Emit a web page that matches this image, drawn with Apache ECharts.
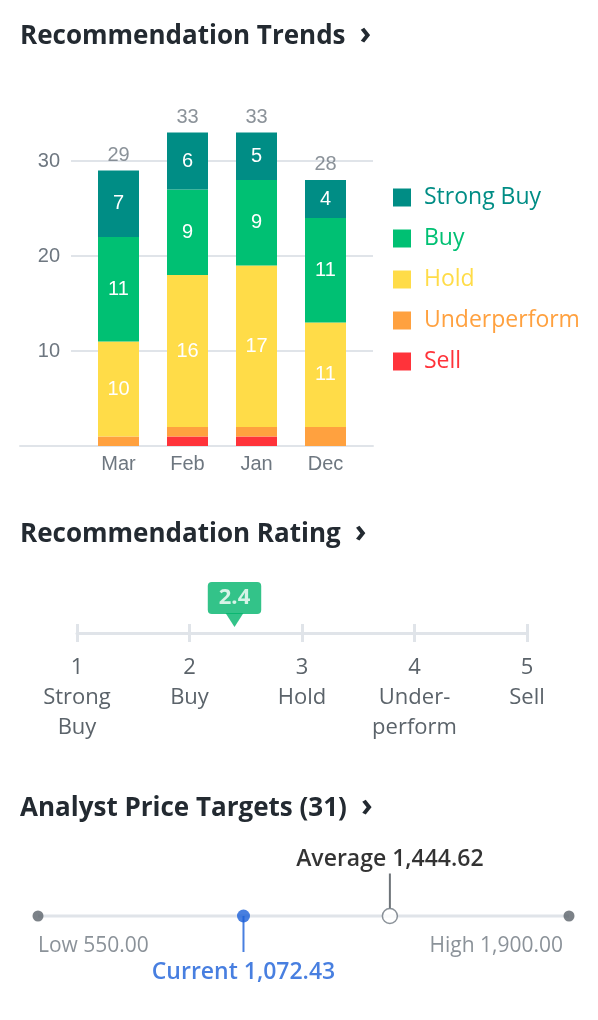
<!DOCTYPE html>
<html>
<head>
<meta charset="utf-8">
<script src="https://cdn.jsdelivr.net/npm/echarts@6/dist/echarts.min.js"></script>
<style>
  html, body { margin: 0; padding: 0; background: #fff; }
  #main { width: 598px; height: 1020px; }
</style>
</head>
<body>
<div id="main"></div>
<script>
// recommendation trends (stack order bottom -> top: sell .. strong buy)
var months = ['Mar', 'Feb', 'Jan', 'Dec'];
var strongBuy = [7, 6, 5, 4];
var buy = [11, 9, 9, 11];
var hold = [10, 16, 17, 11];
var underperform = [1, 1, 1, 2];
var sell = [0, 1, 1, 0];
var yTickLabels = [10, 20, 30];

// recommendation rating
var ratingScale = [1, 2, 3, 4, 5];
var ratingNames = ['Strong\nBuy', 'Buy', 'Hold', 'Under-\nperform', 'Sell'];
var ratingValue = 2.4;

// analyst price targets
var analystCount = 31;
var priceLow = 550.00;
var priceHigh = 1900.00;
var priceCurrent = 1072.43;
var priceAverage = 1444.62;

var totals = months.map(function (m, i) {
  return strongBuy[i] + buy[i] + hold[i] + underperform[i] + sell[i];
});

var fmt = function (v) {
  return v.toLocaleString('en-US', {minimumFractionDigits: 2, maximumFractionDigits: 2});
};

var HUM = '"Open Sans", "Noto Sans", sans-serif';
var ARIAL = '"Liberation Sans", Arial, sans-serif';
var grey = '#6e7780';
var lineGrey = '#e0e4e9';

var colors = {
  'Strong Buy': '#008d85',
  'Buy': '#00c073',
  'Hold': '#ffdc48',
  'Underperform': '#ffa13f',
  'Sell': '#ff333a'
};

function heading(text, top) {
  return {
    text: '{t|' + text + '}{c|›}',
    left: 20, top: top, padding: 0,
    textStyle: {
      rich: {
        t: {fontFamily: HUM, fontWeight: 'bold', fontSize: 26, lineHeight: 30, color: '#232a31'},
        c: {fontFamily: HUM, fontWeight: 'bold', fontSize: 32, lineHeight: 30, color: '#232a31', padding: [0, 0, 4, 14]}
      }
    }
  };
}

function barSeries(name, data, showLabel) {
  return {
    name: name,
    type: 'bar',
    stack: 'rec',
    xAxisIndex: 2,
    yAxisIndex: 2,
    barWidth: 41,
    data: data,
    itemStyle: {color: colors[name]},
    label: {
      show: showLabel,
      position: 'inside',
      color: '#fff',
      fontSize: 20,
      fontFamily: ARIAL
    }
  };
}

var chart = echarts.init(document.getElementById('main'));

var option = {
  animation: false,
  title: [
    heading('Recommendation Trends', 22),
    heading('Recommendation Rating', 520),
    heading('Analyst Price Targets (' + analystCount + ')', 794)
  ],
  legend: {
    orient: 'vertical',
    left: 393,
    top: 186,
    padding: 0,
    itemWidth: 18,
    itemHeight: 18,
    itemGap: 18,
    icon: 'rect',
    selectedMode: false,
    textStyle: {fontFamily: HUM, fontSize: 23, lineHeight: 22, padding: [0, 0, 0, 8]},
    data: ['Strong Buy', 'Buy', 'Hold', 'Underperform', 'Sell'].map(function (n) {
      return {name: n, textStyle: {color: colors[n]}};
    })
  },
  grid: [
    {left: 20, right: 225, top: 66, bottom: 574},
    {left: 71, right: 225, top: 66, bottom: 574},
    {left: 84, right: 238, top: 66, bottom: 574},
    {left: 77, right: 71, top: 624, bottom: 378},
    {left: 38, right: 29, top: 900, bottom: 88}
  ],
  xAxis: [
    {gridIndex: 0, type: 'category', data: months,
      axisLine: {lineStyle: {color: lineGrey, width: 2}},
      axisTick: {show: false}, axisLabel: {show: false}},
    {gridIndex: 1, type: 'category', data: months, show: false},
    {gridIndex: 2, type: 'category', data: months,
      axisLine: {show: false}, axisTick: {show: false},
      axisLabel: {color: grey, fontSize: 20, fontFamily: ARIAL, margin: 8}},
    {gridIndex: 3, type: 'value', min: ratingScale[0], max: ratingScale[ratingScale.length - 1], interval: 1,
      axisLine: {show: true, onZero: true, lineStyle: {color: lineGrey, width: 3}},
      axisTick: {show: false},
      splitLine: {show: true, lineStyle: {color: lineGrey, width: 3}},
      axisLabel: {
        color: '#5b636a', fontSize: 22, fontFamily: HUM, lineHeight: 30, margin: 11,
        formatter: function (v) { return v + '\n' + ratingNames[ratingScale.indexOf(v)]; }
      }},
    {gridIndex: 4, type: 'value', min: priceLow, max: priceHigh, show: false}
  ],
  yAxis: [
    {gridIndex: 0, type: 'value', min: 0, max: 40, show: false},
    {gridIndex: 1, type: 'value', min: 0, max: 40, interval: 10,
      axisLine: {show: false}, axisTick: {show: false},
      axisLabel: {color: grey, fontSize: 20, fontFamily: ARIAL, margin: 11,
        formatter: function (v) { return yTickLabels.indexOf(v) >= 0 ? v : ''; }},
      splitLine: {lineStyle: {color: [lineGrey, lineGrey, lineGrey, lineGrey, 'rgba(0,0,0,0)'], width: 2}}},
    {gridIndex: 2, type: 'value', min: 0, max: 40, show: false},
    {gridIndex: 3, type: 'value', min: -1, max: 1, show: false},
    {gridIndex: 4, type: 'value', min: -1, max: 1, show: false}
  ],
  series: [
    barSeries('Sell', sell, false),
    barSeries('Underperform', underperform, false),
    barSeries('Hold', hold, true),
    barSeries('Buy', buy, true),
    barSeries('Strong Buy', strongBuy, true),
    {
      type: 'scatter', xAxisIndex: 2, yAxisIndex: 2,
      data: totals, symbolSize: 1, itemStyle: {color: 'rgba(0,0,0,0)'},
      label: {show: true, position: 'top', distance: 5, color: grey, fontSize: 20, fontFamily: ARIAL}
    },
    // rating marker
    {
      type: 'scatter', xAxisIndex: 3, yAxisIndex: 3,
      data: [[ratingValue, 0]],
      symbol: 'triangle', symbolRotate: 180, symbolSize: [18, 14], symbolOffset: [0, -13],
      itemStyle: {color: '#00b46c'},
      label: {
        show: true, position: 'top', distance: -1,
        formatter: function (p) { return p.value[0].toFixed(1); },
        backgroundColor: '#00b46c', borderRadius: 4, padding: [5, 11, 5, 11],
        color: '#fff', fontFamily: HUM, fontWeight: 'bold', fontSize: 22, lineHeight: 22
      }
    },
    // price targets
    {
      type: 'line', xAxisIndex: 4, yAxisIndex: 4,
      data: [[priceLow, 0], [priceHigh, 0]], symbol: 'none',
      lineStyle: {color: lineGrey, width: 3}, z: 1
    },
    {
      type: 'scatter', xAxisIndex: 4, yAxisIndex: 4,
      symbolSize: 11, itemStyle: {color: '#5b636a'},
      data: [
        {value: [priceLow, 0], label: {show: true, position: 'bottom', align: 'left', distance: 14,
          formatter: 'Low ' + fmt(priceLow)}},
        {value: [priceHigh, 0], label: {show: true, position: 'bottom', align: 'right', distance: 14,
          offset: [-6, 0], formatter: 'High ' + fmt(priceHigh)}}
      ],
      label: {color: grey, fontSize: 21, fontFamily: HUM}
    },
    {
      type: 'scatter', xAxisIndex: 4, yAxisIndex: 4,
      data: [[priceCurrent, 0]], symbol: 'rect', symbolSize: [2, 36], symbolOffset: [0, 18],
      itemStyle: {color: '#1a5fd8'},
      label: {show: true, position: 'bottom', distance: 9, formatter: 'Current ' + fmt(priceCurrent),
        color: '#1a5fd8', fontSize: 23, fontWeight: 600, fontFamily: HUM}
    },
    {
      type: 'scatter', xAxisIndex: 4, yAxisIndex: 4,
      data: [[priceCurrent, 0]], symbolSize: 13, itemStyle: {color: '#1a5fd8'}
    },
    {
      type: 'scatter', xAxisIndex: 4, yAxisIndex: 4,
      data: [[priceAverage, 0]], symbol: 'rect', symbolSize: [2, 35], symbolOffset: [0, -25],
      itemStyle: {color: '#4a5158'},
      label: {show: true, position: 'top', distance: 3, formatter: 'Average ' + fmt(priceAverage),
        color: '#000', fontSize: 23, fontWeight: 600, fontFamily: HUM}
    },
    {
      type: 'scatter', xAxisIndex: 4, yAxisIndex: 4,
      data: [[priceAverage, 0]], symbolSize: 15,
      itemStyle: {color: '#fff', borderColor: '#6e7780', borderWidth: 1.5}
    }
  ]
};

chart.setOption(option);
</script>
</body>
</html>
